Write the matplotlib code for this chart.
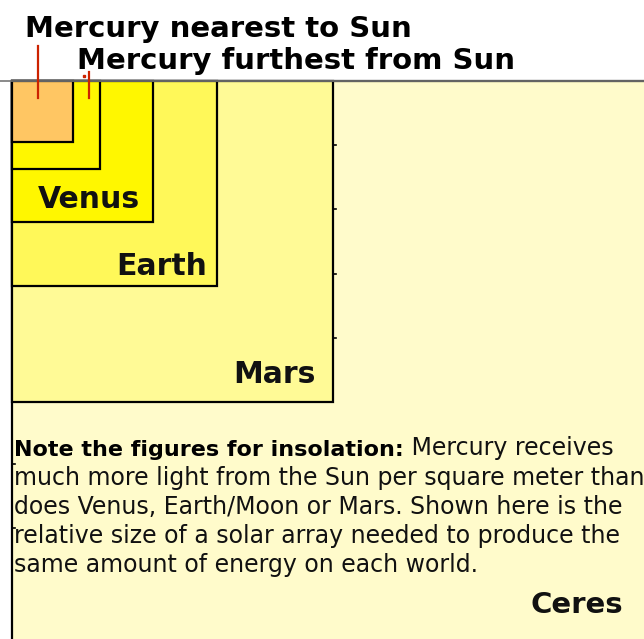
import matplotlib
matplotlib.use("Agg")
import matplotlib.pyplot as plt
from matplotlib.patches import Rectangle

# Solar array side length needed for the same energy, relative to Earth (Earth = 1)
bodies = ["Ceres", "Mars", "Earth", "Venus", "Mercury furthest from Sun", "Mercury nearest to Sun"]
rel_side = [3.12, 1.566, 1.0, 0.688, 0.43, 0.298]
fills = ["#fffbcb", "#fffa96", "#fff859", "#fff700", "#fff700", "#ffc663"]
labels = ["Ceres", "Mars", "Earth", "Venus", None, None]

note_bold = "Note the figures for insolation:"
note_lines = [
    " Mercury receives",
    "much more light from the Sun per square meter than",
    "does Venus, Earth/Moon or Mars. Shown here is the",
    "relative size of a solar array needed to produce the",
    "same amount of energy on each world.",
]

W, H = 644, 639
x0, y0 = 12, 81          # shared top-left corner of all squares
px_per_unit = 205        # pixels for Earth's square

# label padding from the square's bottom-right corner (right, bottom)
label_pad = {"Mars": (17, 19), "Earth": (10, 11), "Venus": (13, 14)}

fig = plt.figure(figsize=(W / 100, H / 100), dpi=100)
ax = fig.add_axes([0, 0, 1, 1])
ax.set_xlim(0, W)
ax.set_ylim(H, 0)
ax.axis("off")

# nested squares, largest first
for name, s, c, lab in zip(bodies, rel_side, fills, labels):
    side = s * px_per_unit
    ax.add_patch(Rectangle((x0, y0), side, side, facecolor=c,
                           edgecolor="black", linewidth=1.6, zorder=1))
    if lab in label_pad:
        dx, dy = label_pad[lab]
        ax.text(x0 + side - dx, y0 + side - dy, lab, ha="right", va="baseline",
                fontsize=21.5, fontweight="bold", color="#111111", zorder=3)

# Ceres square runs off the page, so its label sits in the visible corner
ax.text(W - 21, H - 26, labels[0], ha="right", va="baseline",
        fontsize=21, fontweight="semibold", color="#111111", zorder=3)

# top edge across the whole width
ax.plot([0, W], [y0 - 0.5, y0 - 0.5], color="#777777", lw=1.2, zorder=2)

# tick marks every fifth of Mars' side
step = rel_side[1] * px_per_unit / 5
mars_right = x0 + rel_side[1] * px_per_unit
for k in range(1, 5):
    ax.plot([mars_right, mars_right + 3], [y0 + k * step] * 2, color="black", lw=1.2, zorder=2)
for k in (6, 7):
    ax.plot([x0, x0 + 3], [y0 + k * step - 2] * 2, color="black", lw=1.2, zorder=2)

# leader lines for the two Mercury squares
ax.plot([38, 38], [46, 98], color="#cc2200", lw=1.6, zorder=4)
ax.plot([89, 89], [72, 98], color="#cc2200", lw=1.6, zorder=4)
ax.plot([84], [75.5], marker="s", ms=1.5, color="#cc2200", zorder=4)

ax.text(25, 37, bodies[5], ha="left", va="baseline",
        fontsize=21, fontweight="bold", color="black")
ax.text(77, 69, bodies[4], ha="left", va="baseline",
        fontsize=21, fontweight="bold", color="black")

# insolation note
fs_note = 17
t = ax.text(14, 456, note_bold, ha="left", va="baseline",
            fontsize=16, fontweight="bold", color="black")
ax.annotate(note_lines[0], xy=(1, 0), xycoords=t, ha="left", va="bottom",
            fontsize=fs_note, color="#111111")
for i, line in enumerate(note_lines[1:], start=1):
    ax.text(14, 456 + 29 * i, line, ha="left", va="baseline",
            fontsize=fs_note, color="#111111")

fig.savefig("out.png", dpi=100)
